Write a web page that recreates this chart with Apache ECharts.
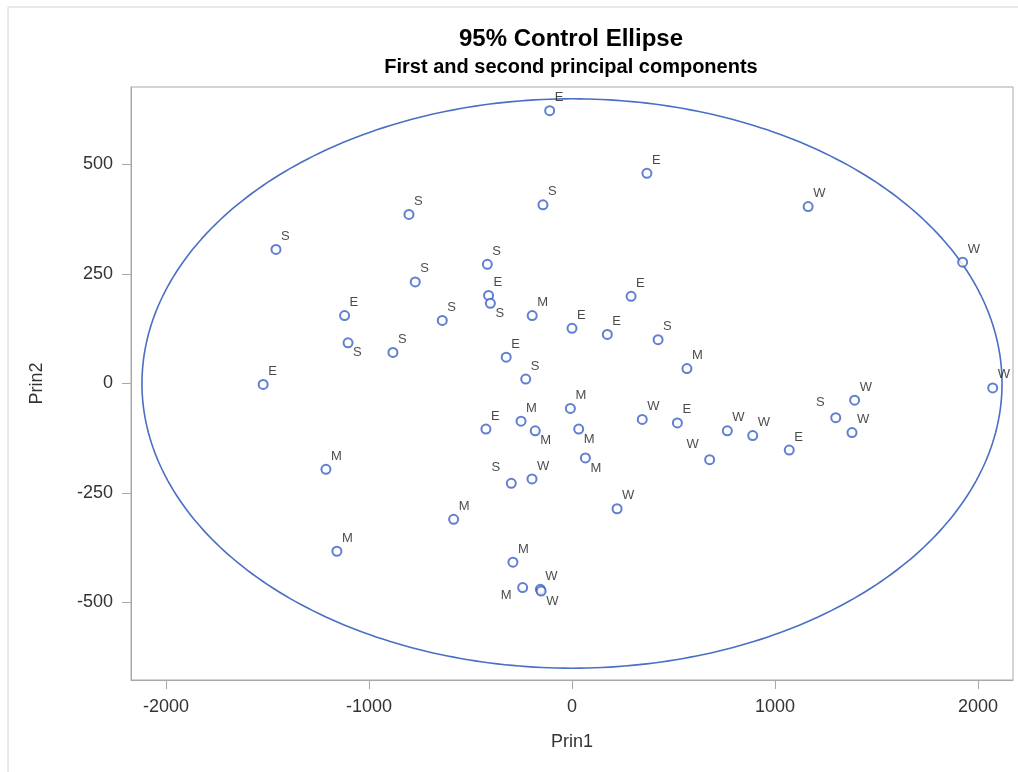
<!DOCTYPE html>
<html>
<head>
<meta charset="utf-8">
<title>95% Control Ellipse</title>
<script src="https://cdn.jsdelivr.net/npm/echarts@6/dist/echarts.min.js"></script>
<style>
    html, body { margin: 0; padding: 0; background: #fff; }
    #chart { width: 1018px; height: 772px; }
</style>
</head>
<body>
<div id="chart"></div>
<script>
// principal component scores, one entry per state, grouped by region
const prin1 = [
    -110, 369, -411, 291, -1120, 0, 174, -324, -1521, 519, -424, 1070,
    -1458, -803, -772, -143, -417, -402, -639, -1103, -882, 424, -228, -299, 1299,
    -196, 566, -8, -251, -181, 33, 66, -1212, -583, -1158, -291, -243,
    1163, 1924, 2072, 1392, 1379, 346, 765, 890, 678, -197, 222, -156, -152
];
const prin2 = [
    623, 480, 201, 199, 155, 126, 112, 60, -2, -90, -104, -152,
    306, 386, 232, 408, 272, 183, 144, 93, 71, 100, 10, -228, -78,
    155, 34, -57, -86, -108, -104, -170, -196, -310, -383, -408, -466,
    404, 277, -10, -38, -112, -82, -108, -119, -174, -218, -286, -470, -474
];
const region = [
    'E','E','E','E','E','E','E','E','E','E','E','E',
    'S','S','S','S','S','S','S','S','S','S','S','S','S',
    'M','M','M','M','M','M','M','M','M','M','M','M',
    'W','W','W','W','W','W','W','W','W','W','W','W','W'
];
// which corner of the marker each label goes to (tr = top right ...)
const labelSpot = [
    'tr','tr','tr','tr','tr','tr','tr','tr','tr','tr','tr','tr',
    'tr','tr','tr','tr','tr','br','tr','br','tr','tr','tr','tl','tl',
    'tr','tr','tr','tr','br','br','br','tr','tr','tr','tr','bl',
    'tr','tr','tr','tr','tr','tr','tr','tr','tl','tr','tr','tr','br'
];

const xTicks = [-2000, -1000, 0, 1000, 2000];
const yTicks = [-500, -250, 0, 250, 500];

// 95% ellipse: centre and semi axes
const ellipseCenter = [0, 0];
const ellipseRadius = [2118, 650];

const FONT = "'Liberation Sans', Arial, sans-serif";

const spots = {
    tr: { position: [10.5, -7.5], align: 'left' },
    br: { position: [10.5, 15.5], align: 'left' },
    tl: { position: [-5.5, -10], align: 'right' },
    bl: { position: [-5.5, 13.5], align: 'right' }
};

var points = [];
for (var i = 0; i < prin1.length; i++) {
    var s = spots[labelSpot[i]];
    points.push({
        value: [prin1[i], prin2[i], region[i]],
        label: { position: s.position, align: s.align }
    });
}

var chart = echarts.init(document.getElementById('chart'));

var plain = function (v) { return String(v); };

var option = {
    backgroundColor: '#fff',
    animation: false,
    title: {
        text: '95% Control Ellipse',
        subtext: 'First and second principal components',
        left: 566,
        top: 22,
        textAlign: 'center',
        itemGap: 6,
        textStyle: { fontFamily: FONT, fontSize: 24, fontWeight: 'bold', color: '#000' },
        subtextStyle: { fontFamily: FONT, fontSize: 20, fontWeight: 'bold', color: '#000' }
    },
    graphic: [{
        type: 'rect',
        shape: { x: 8, y: 7, width: 1030, height: 800 },
        style: { fill: null, stroke: '#d4d4d4', lineWidth: 1 },
        silent: true
    }],
    grid: {
        left: 131, right: 5, top: 87, bottom: 92,
        show: true,
        borderColor: '#a8a8a8',
        borderWidth: 1
    },
    xAxis: {
        type: 'value',
        min: -2172,
        max: 2172,
        name: 'Prin1',
        nameLocation: 'middle',
        nameGap: 53,
        nameTextStyle: { fontFamily: FONT, fontSize: 18, color: '#333' },
        axisLine: { show: true, onZero: false, lineStyle: { color: '#a8a8a8' } },
        axisTick: { show: true, length: 9, customValues: xTicks, lineStyle: { color: '#a8a8a8' } },
        axisLabel: { customValues: xTicks, formatter: plain, margin: 18, fontFamily: FONT, fontSize: 18, color: '#333' },
        splitLine: { show: false }
    },
    yAxis: {
        type: 'value',
        min: -677,
        max: 677,
        name: 'Prin2',
        nameLocation: 'middle',
        nameRotate: 90,
        nameGap: 85,
        nameTextStyle: { fontFamily: FONT, fontSize: 18, color: '#333' },
        axisLine: { show: true, onZero: false, lineStyle: { color: '#a8a8a8' } },
        axisTick: { show: true, length: 9, customValues: yTicks, lineStyle: { color: '#a8a8a8' } },
        axisLabel: { customValues: yTicks, formatter: plain, margin: 18, fontFamily: FONT, fontSize: 18, color: '#333' },
        splitLine: { show: false }
    },
    series: [
        {
            type: 'custom',
            silent: true,
            data: [ellipseCenter],
            z: 1,
            renderItem: function (params, api) {
                var pts = [];
                for (var k = 0; k <= 360; k++) {
                    var a = k * Math.PI / 180;
                    pts.push(api.coord([
                        ellipseCenter[0] + ellipseRadius[0] * Math.cos(a),
                        ellipseCenter[1] + ellipseRadius[1] * Math.sin(a)
                    ]));
                }
                return {
                    type: 'polyline',
                    shape: { points: pts },
                    style: { stroke: '#4a6fc4', lineWidth: 1.6, fill: null }
                };
            }
        },
        {
            type: 'scatter',
            symbol: 'emptyCircle',
            symbolSize: 9,
            z: 3,
            itemStyle: { color: '#3a5fc6', borderWidth: 1.8 },
            label: {
                show: true,
                formatter: function (p) { return p.value[2]; },
                verticalAlign: 'middle',
                fontFamily: FONT,
                fontSize: 13,
                color: '#1a1a1a'
            },
            data: points
        }
    ]
};

chart.setOption(option);
</script>
</body>
</html>
